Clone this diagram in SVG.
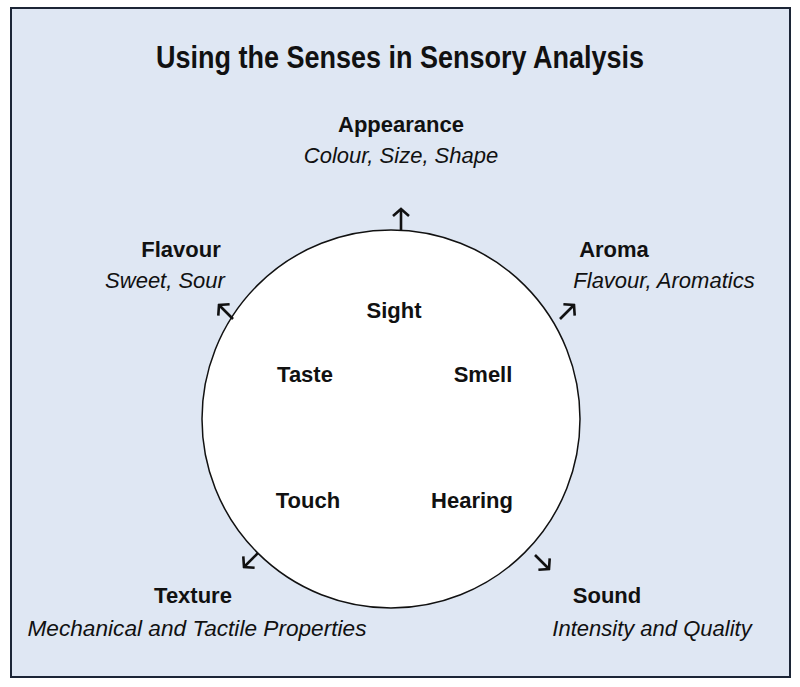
<svg xmlns="http://www.w3.org/2000/svg" width="800" height="687" viewBox="0 0 800 687">
<style>
.b{font-family:"Liberation Sans",Arial,sans-serif;font-weight:bold;font-size:22px;fill:#111;text-anchor:middle}
.i{font-family:"Liberation Sans",Arial,sans-serif;font-style:italic;font-size:22px;fill:#111;text-anchor:middle}
.t{font-family:"Liberation Sans",Arial,sans-serif;font-weight:bold;font-size:32px;fill:#111;text-anchor:middle}
.a{fill:none;stroke:#111;stroke-width:2.6}
</style>
<defs>
<marker id="h" viewBox="0 0 20 20" refX="18" refY="10" markerWidth="20" markerHeight="20" orient="auto" markerUnits="userSpaceOnUse">
<path d="M11,2 L18,10 L11,18" fill="none" stroke="#111" stroke-width="2.6" stroke-linejoin="miter"/>
</marker>
</defs>
<rect x="0" y="0" width="800" height="687" fill="#ffffff"/>
<rect x="11" y="8" width="779" height="669" fill="#dfe7f3" stroke="#1c2536" stroke-width="2"/>
<text class="t" x="400" y="68" textLength="488" lengthAdjust="spacingAndGlyphs">Using the Senses in Sensory Analysis</text>
<g id="circle">
<circle cx="391" cy="419" r="189" fill="#ffffff" stroke="#111" stroke-width="1.5"/>
<text class="b" x="394" y="318">Sight</text>
<text class="b" x="305" y="382">Taste</text>
<text class="b" x="483" y="382">Smell</text>
<text class="b" x="308" y="508">Touch</text>
<text class="b" x="472" y="508">Hearing</text>
</g>
<g id="connectors">
<path class="a" d="M401,230 L401,209" marker-end="url(#h)"/>
<path class="a" d="M233,319 L219,305" marker-end="url(#h)"/>
<path class="a" d="M560,319 L574,305" marker-end="url(#h)"/>
<path class="a" d="M258,553 L244,567" marker-end="url(#h)"/>
<path class="a" d="M535,555 L549,569" marker-end="url(#h)"/>
</g>
<g id="appearance">
<text class="b" x="401" y="132">Appearance</text>
<text class="i" x="401" y="163">Colour, Size, Shape</text>
</g>
<g id="flavour">
<text class="b" x="181" y="257">Flavour</text>
<text class="i" x="165" y="288">Sweet, Sour</text>
</g>
<g id="aroma">
<text class="b" x="614" y="257">Aroma</text>
<text class="i" x="664" y="288">Flavour, Aromatics</text>
</g>
<g id="texture">
<text class="b" x="193" y="603">Texture</text>
<text class="i" x="197" y="636" textLength="339" lengthAdjust="spacingAndGlyphs">Mechanical and Tactile Properties</text>
</g>
<g id="sound">
<text class="b" x="607" y="603">Sound</text>
<text class="i" x="652" y="636">Intensity and Quality</text>
</g>
</svg>
